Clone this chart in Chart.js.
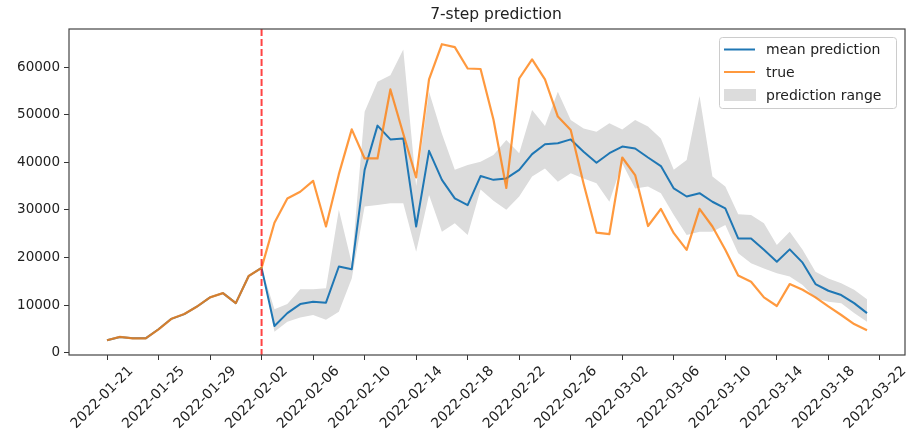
<!DOCTYPE html>
<html>
<head>
<meta charset="utf-8">
<script src="https://cdn.jsdelivr.net/npm/chart.js@4.4.0/dist/chart.umd.min.js"></script>
<style>
  html, body { margin: 0; padding: 0; background: #fff; }
  #wrap { width: 914px; height: 443px; }
</style>
</head>
<body>
<div id="wrap"><canvas id="predChart" width="914" height="443"></canvas></div>
<script>
// daily series, first day 2022-01-21, last 2022-03-21
const startDate = '2022-01-21';
const splitDate = '2022-02-02';

const xTickLabels = ['2022-01-21', '2022-01-25', '2022-01-29', '2022-02-02', '2022-02-06', '2022-02-10',
  '2022-02-14', '2022-02-18', '2022-02-22', '2022-02-26', '2022-03-02', '2022-03-06',
  '2022-03-10', '2022-03-14', '2022-03-18', '2022-03-22'];
const yTickValues = [0, 10000, 20000, 30000, 40000, 50000, 60000];

const trueValues = [2600, 3300, 3000, 3000, 4900, 7100, 8100, 9700, 11600, 12500,
  10400, 16100, 17800, 27300, 32400, 33800, 36100, 26500, 37500, 46900,
  40800, 40800, 55300, 46000, 36800, 57400, 64800, 64200, 59700, 59600,
  49000, 34600, 57600, 61600, 57400, 49600, 46800, 35500, 25200, 24900,
  41000, 37300, 26600, 30200, 25100, 21600, 30200, 26500, 21600, 16200,
  14900, 11600, 9800, 14400, 13200, 11600, 9700, 7900, 6000, 4700];

// prediction values start at splitDate
const meanPrediction = [17800, 5600, 8300, 10200, 10700, 10500, 18100, 17500, 38400, 47700,
  44800, 45000, 26500, 42400, 36300, 32400, 31000, 37100, 36300, 36600,
  38400, 41700, 43800, 44000, 44800, 42200, 39900, 41900, 43300, 42900,
  41000, 39200, 34500, 32800, 33500, 31700, 30300, 24000, 24000, 21600,
  19100, 21700, 18900, 14400, 13000, 12100, 10400, 8300];
const rangeLower = [17800, 4400, 6500, 7400, 7900, 6900, 8600, 15600, 30700, 31000,
  31400, 31400, 21200, 33100, 25400, 27200, 24700, 34300, 31900, 30000,
  32800, 37000, 38700, 35900, 37700, 36600, 35600, 31700, 39800, 34500,
  34900, 33500, 28900, 24700, 25400, 25400, 26800, 20900, 18800, 17700,
  16700, 16000, 14200, 11400, 10700, 10400, 8300, 6500];
const rangeUpper = [17800, 9100, 10200, 13300, 13300, 13500, 30000, 18800, 50600, 56900,
  58300, 63700, 35000, 54800, 46000, 38400, 39400, 40100, 41500, 44700,
  41900, 51000, 47600, 54800, 48900, 47100, 46400, 48200, 46900, 48900,
  47500, 45000, 38400, 40500, 53900, 37000, 34900, 29100, 28900, 27200,
  22600, 25400, 21600, 17000, 15600, 14600, 13200, 11200];

function dayIndex(dateStr) {
  return (Date.parse(dateStr) - Date.parse(startDate)) / 86400000;
}
const splitDay = dayIndex(splitDate);

const truePoints = trueValues.map((v, i) => ({ x: i, y: v }));
// before the split the mean prediction line sits on the history
const meanPoints = trueValues.slice(0, splitDay).map((v, i) => ({ x: i, y: v }))
  .concat(meanPrediction.map((v, i) => ({ x: splitDay + i, y: v })));
const lowerPoints = rangeLower.map((v, i) => ({ x: splitDay + i, y: v }));
const upperPoints = rangeUpper.map((v, i) => ({ x: splitDay + i, y: v }));

const FONT = 'DejaVu Sans';
const TEXT = '#222';
const BAND = '#dcdcdc';

const decorations = {
  id: 'decorations',
  afterDatasetsDraw(chart) {
    const { ctx, chartArea, scales } = chart;
    const x = scales.x.getPixelForValue(splitDay);
    ctx.save();
    ctx.strokeStyle = 'rgba(255,20,20,0.8)';
    ctx.lineWidth = 2;
    ctx.setLineDash([7, 3]);
    ctx.beginPath();
    ctx.moveTo(x, chartArea.top);
    ctx.lineTo(x, chartArea.bottom);
    ctx.stroke();
    ctx.restore();
  },
  afterDraw(chart) {
    const { ctx, chartArea } = chart;
    ctx.save();
    // axes frame
    ctx.strokeStyle = '#444';
    ctx.lineWidth = 1.2;
    ctx.strokeRect(chartArea.left, chartArea.top, chartArea.right - chartArea.left, chartArea.bottom - chartArea.top);

    // title
    ctx.fillStyle = TEXT;
    ctx.font = '15.5px "' + FONT + '"';
    ctx.textAlign = 'center';
    ctx.textBaseline = 'middle';
    ctx.fillText('7-step prediction', (chartArea.left + chartArea.right) / 2 + 9, 15);

    // legend box
    const bx = 719.5, by = 37.5, bw = 177, bh = 71;
    ctx.fillStyle = 'rgba(255,255,255,0.85)';
    ctx.strokeStyle = '#ccc';
    ctx.lineWidth = 1;
    ctx.beginPath();
    ctx.roundRect(bx, by, bw, bh, 3);
    ctx.fill();
    ctx.stroke();

    const ds = chart.data.datasets;
    const items = [
      { label: ds[2].label, color: ds[2].borderColor, kind: 'line', y: 49.5 },
      { label: ds[3].label, color: ds[3].borderColor, kind: 'line', y: 72 },
      { label: ds[1].label, color: BAND, kind: 'patch', y: 95 }
    ];
    ctx.font = '14px "' + FONT + '"';
    ctx.textAlign = 'left';
    items.forEach(it => {
      if (it.kind === 'line') {
        ctx.strokeStyle = it.color;
        ctx.lineWidth = 2;
        ctx.beginPath();
        ctx.moveTo(724, it.y);
        ctx.lineTo(755, it.y);
        ctx.stroke();
      } else {
        ctx.fillStyle = it.color;
        ctx.fillRect(724, it.y - 6, 32, 12);
      }
      ctx.fillStyle = TEXT;
      ctx.fillText(it.label, 766, it.y + 1);
    });
    ctx.restore();
  }
};

const ctx = document.getElementById('predChart').getContext('2d');
new Chart(ctx, {
  type: 'line',
  data: {
    datasets: [
      {
        label: 'range lower',
        data: lowerPoints,
        borderColor: 'transparent',
        borderWidth: 0,
        pointRadius: 0,
        fill: false,
        order: 3
      },
      {
        label: 'prediction range',
        data: upperPoints,
        borderColor: 'transparent',
        backgroundColor: BAND,
        borderWidth: 0,
        pointRadius: 0,
        fill: '-1',
        order: 3
      },
      {
        label: 'mean prediction',
        data: meanPoints,
        borderColor: '#1f77b4',
        borderWidth: 2,
        pointRadius: 0,
        borderJoinStyle: 'round',
        fill: false,
        order: 2
      },
      {
        label: 'true',
        data: truePoints,
        borderColor: 'rgba(255,127,14,0.8)',
        borderWidth: 2.2,
        pointRadius: 0,
        borderJoinStyle: 'round',
        fill: false,
        order: 1
      }
    ]
  },
  options: {
    responsive: false,
    animation: false,
    devicePixelRatio: 1,
    layout: { padding: { top: 29, right: 9, left: 0, bottom: 0 } },
    plugins: {
      legend: { display: false },
      title: { display: false },
      tooltip: { enabled: false }
    },
    scales: {
      x: {
        type: 'linear',
        min: -2.95,
        max: 61.95,
        afterBuildTicks: s => { s.ticks = xTickLabels.map(l => ({ value: dayIndex(l) })); },
        afterFit: s => { s.height = 88; },
        ticks: {
          callback: (v, i) => xTickLabels[i],
          minRotation: 45,
          maxRotation: 45,
          autoSkip: false,
          labelOffset: 24,
          padding: 3,
          color: TEXT,
          font: { family: FONT, size: 14 }
        },
        grid: { drawOnChartArea: false, tickLength: 5, color: '#333' },
        border: { display: false }
      },
      y: {
        type: 'linear',
        min: -500,
        max: 68000,
        afterBuildTicks: s => { s.ticks = yTickValues.map(v => ({ value: v })); },
        afterFit: s => { s.width = 69; },
        ticks: {
          callback: v => String(v),
          padding: 4,
          color: TEXT,
          font: { family: FONT, size: 13.5 }
        },
        grid: { drawOnChartArea: false, tickLength: 5, color: '#333' },
        border: { display: false }
      }
    }
  },
  plugins: [decorations]
});
</script>
</body>
</html>
